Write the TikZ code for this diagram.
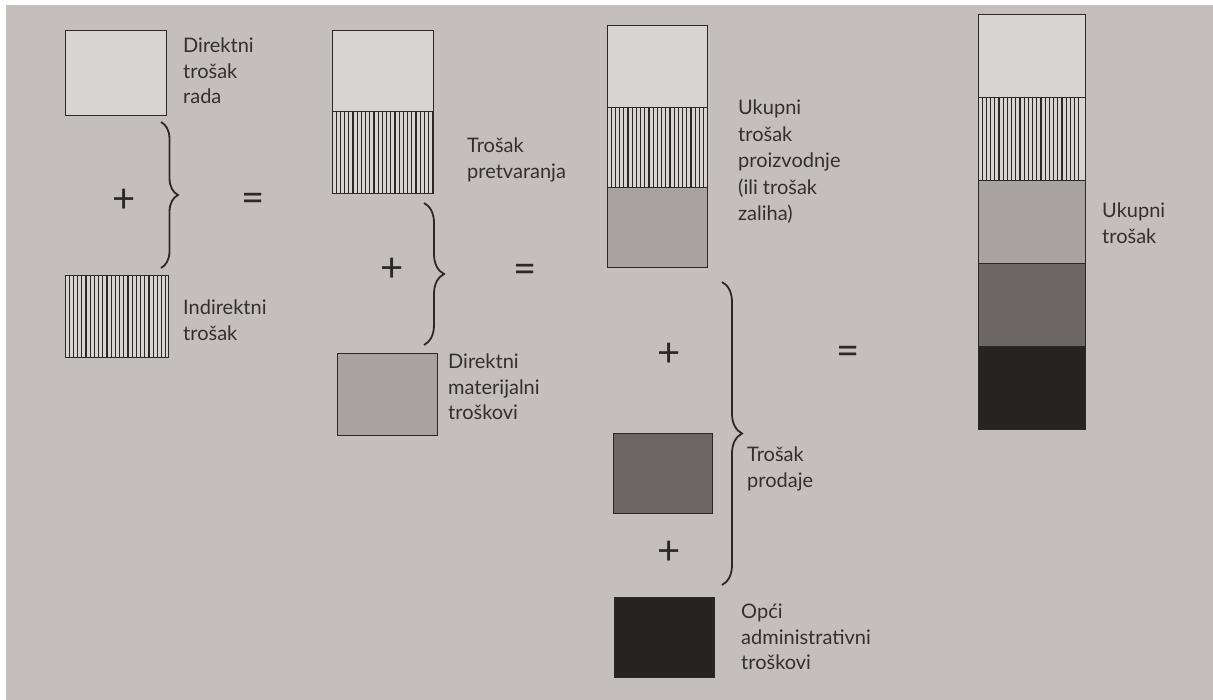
\documentclass[tikz,border=0pt]{standalone}
\usepackage{fontspec}
\setmainfont{Lato}
\usetikzlibrary{positioning,decorations.pathreplacing}
\definecolor{paper}{RGB}{196,191,189}
\definecolor{blank}{RGB}{216,212,210}
\definecolor{light}{RGB}{168,163,161}
\definecolor{mid}{RGB}{108,103,102}
\definecolor{dark}{RGB}{40,35,35}
\definecolor{ink}{RGB}{45,40,40}
\definecolor{txt}{RGB}{52,47,47}
\tikzset{
  cell/.style={draw=ink,line width=0.9pt,inner sep=0pt,outer sep=0pt,anchor=north west,minimum width=101pt,minimum height=82pt},
  blank/.style={cell,fill=blank},
  hatch/.style={cell,fill=blank,path picture={
    \foreach \i in {4.2,8.4,...,104}
      \draw[ink,line width=1.1pt] ([xshift=\i pt]path picture bounding box.north west) -- ([xshift=\i pt]path picture bounding box.south west);}},
  light/.style={cell,fill=light},
  mid/.style={cell,fill=mid},
  dark/.style={cell,fill=dark},
  lbl/.style={anchor=north west,align=left,inner sep=0pt,text=txt,font=\fontsize{20}{25.5}\selectfont},
  sign/.style={text=ink,inner sep=0pt,font=\fontsize{40}{40}\selectfont},
  cbrace/.style={draw=ink,line width=1.8pt,decorate,decoration={brace,amplitude=#1}}
}
\begin{document}
\begin{tikzpicture}[x=1pt,y=-1pt]
\useasboundingbox (0,0) rectangle (1213,700);
\fill[paper] (6,5) rectangle (1213,700);

\node[blank,minimum height=85pt] (rada) at (65,30) {};
\node[hatch,minimum width=103pt] (indirekt) at (65,275) {};
\node[lbl] (lrada) at (183,38) {Direktni\\trošak\\rada};
\node[lbl] (lindirekt) at (183,300) {Indirektni\\trošak};
\node[sign] (plus1) at (124,201) {+};
\node[sign] (eq1) at (253,202) {=};
\coordinate (b1a) at (161,122);
\coordinate (b1b) at (161,268);

\node[blank,minimum height=81pt] (pretv1) at (332,30) {};
\node[hatch,below=0pt of pretv1] (pretv2) {};
\node[light,minimum width=100pt] (materijal) at (337,353) {};
\node[lbl] (lpretv) at (467,138) {Trošak\\pretvaranja};
\node[lbl] (lmaterijal) at (448,354) {Direktni\\materijalni\\troškovi};
\node[sign] (plus2) at (392,270) {+};
\node[sign] (eq2) at (525,273) {=};
\coordinate (b2a) at (424,203);
\coordinate (b2b) at (424,345);

\node[blank,minimum width=100pt] (proizv1) at (607,25) {};
\node[hatch,minimum width=100pt,minimum height=80pt,below=0pt of proizv1] (proizv2) {};
\node[light,minimum width=100pt,minimum height=80pt,below=0pt of proizv2] (proizv3) {};
\node[lbl,font=\fontsize{20}{26.5}\selectfont] (lproizv) at (738,100) {Ukupni\\trošak\\proizvodnje\\(ili trošak\\zaliha)};
\node[sign] (plus3) at (669,355) {+};
\node[sign] (eq3) at (848,355) {=};
\node[mid,minimum width=99pt,minimum height=80pt] (prodaja) at (613,433) {};
\node[lbl] (lprodaja) at (747,447) {Trošak\\prodaje};
\node[sign] (plus4) at (669,553) {+};
\node[dark,minimum width=100pt,minimum height=80pt] (opci) at (614,597) {};
\node[lbl] (lopci) at (741,604) {Opći\\administrativni\\troškovi};
\coordinate (b3a) at (722,282);
\coordinate (b3b) at (722,585);

\node[blank,minimum width=107pt,minimum height=83pt] (uk1) at (978,14) {};
\node[hatch,minimum width=107pt,minimum height=83pt,below=0pt of uk1] (uk2) {};
\node[light,minimum width=107pt,minimum height=83pt,below=0pt of uk2] (uk3) {};
\node[mid,minimum width=107pt,minimum height=83pt,below=0pt of uk3] (uk4) {};
\node[dark,minimum width=107pt,minimum height=83pt,below=0pt of uk4] (uk5) {};
\node[lbl] (lukupno) at (1102,203) {Ukupni\\trošak};

\draw[cbrace=17pt] (b1a) -- (b1b);
\draw[cbrace=20pt] (b2a) -- (b2b);
\draw[cbrace=20pt] (b3a) -- (b3b);
\end{tikzpicture}
\end{document}
